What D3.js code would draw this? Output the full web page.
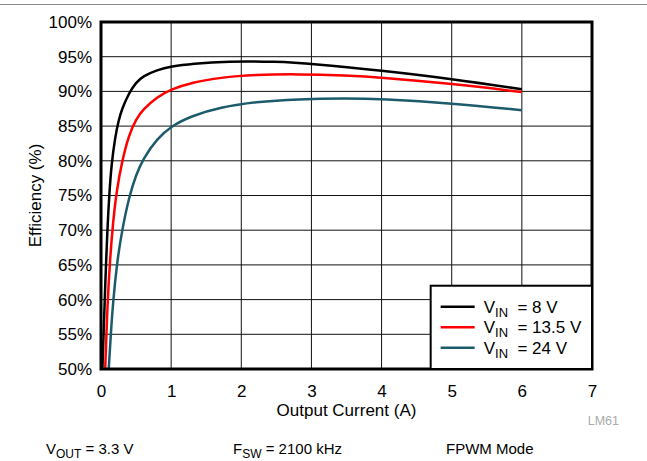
<!DOCTYPE html>
<html>
<head>
<meta charset="utf-8">
<script src="https://cdn.jsdelivr.net/npm/d3@7"></script>
<style>
  body { margin: 0; background: #fff; }
  svg { display: block; font-family: "Liberation Sans", Arial, sans-serif; }
</style>
</head>
<body>
<div id="chart"></div>
<script>
// data
var currents8 = [0.02, 0.04, 0.06, 0.09, 0.12, 0.15, 0.2, 0.25, 0.3, 0.4, 0.5, 0.6, 0.8, 1, 1.3, 1.8, 2.5, 3, 4, 5, 6];
var eff8 = [50, 56, 62, 70, 75.5, 79.5, 83.3, 85.8, 87.5, 89.8, 91.3, 92.2, 93.1, 93.6, 94.0, 94.35, 94.3, 94.0, 93.0, 91.8, 90.3];

var currents135 = [0.06, 0.09, 0.13, 0.17, 0.22, 0.3, 0.4, 0.5, 0.6, 0.8, 1, 1.3, 1.7, 2.2, 2.8, 3.5, 4, 5, 6];
var eff135 = [50, 59, 66, 71, 75.5, 80, 83.8, 86.0, 87.4, 89.2, 90.3, 91.3, 92.0, 92.4, 92.5, 92.3, 92.0, 91.1, 89.9];

var currents24 = [0.11, 0.14, 0.17, 0.23, 0.3, 0.4, 0.5, 0.6, 0.8, 1, 1.3, 1.7, 2.2, 2.8, 3.5, 4, 5, 6];
var eff24 = [50, 55, 59.5, 65.5, 70, 74.8, 78, 80.3, 83.2, 85, 86.5, 87.7, 88.5, 88.9, 89.0, 88.9, 88.3, 87.3];

var seriesNames = ["8 V", "13.5 V", "24 V"];
var seriesColors = ["#000000", "#ff0000", "#1c5b6b"];

var xTicks = [0, 1, 2, 3, 4, 5, 6, 7];
var yTicks = [50, 55, 60, 65, 70, 75, 80, 85, 90, 95, 100];

var svgWidth = 647;
var svgHeight = 461;
var margin = { top: 22, right: 55, bottom: 92, left: 101 };
var width = svgWidth - margin.left - margin.right;
var height = svgHeight - margin.top - margin.bottom;

var svg = d3.select("#chart")
  .append("svg")
  .attr("width", svgWidth)
  .attr("height", svgHeight);

// thin rule across the top
svg.append("line")
  .attr("x1", 0).attr("x2", svgWidth)
  .attr("y1", 4.5).attr("y2", 4.5)
  .attr("stroke", "#8a8a8a")
  .attr("stroke-width", 1);

var chartGroup = svg.append("g")
  .attr("transform", `translate(${margin.left}, ${margin.top})`);

var x = d3.scaleLinear().domain([0, 7]).range([0, width]);
var y = d3.scaleLinear().domain([50, 100]).range([height, 0]);

// grid
chartGroup.append("g")
  .selectAll("line")
  .data(xTicks)
  .enter()
  .append("line")
  .attr("x1", d => x(d)).attr("x2", d => x(d))
  .attr("y1", 0).attr("y2", height)
  .attr("stroke", "#111")
  .attr("stroke-width", 1);

chartGroup.append("g")
  .selectAll("line")
  .data(yTicks)
  .enter()
  .append("line")
  .attr("x1", 0).attr("x2", width)
  .attr("y1", d => y(d)).attr("y2", d => y(d))
  .attr("stroke", "#111")
  .attr("stroke-width", 1);

// axes (labels only)
var bottomAxis = d3.axisBottom(x).tickValues(xTicks).tickSize(0).tickPadding(16)
  .tickFormat(d3.format("d"));
var leftAxis = d3.axisLeft(y).tickValues(yTicks).tickSize(0).tickPadding(9)
  .tickFormat(d => d + "%");

chartGroup.append("g")
  .attr("transform", `translate(0, ${height})`)
  .call(bottomAxis)
  .call(g => g.select(".domain").remove())
  .selectAll("text")
  .attr("font-size", 17)
  .attr("font-family", "Liberation Sans, Arial, sans-serif")
  .attr("fill", "#000");

chartGroup.append("g")
  .call(leftAxis)
  .call(g => g.select(".domain").remove())
  .selectAll("text")
  .attr("font-size", 17)
  .attr("font-family", "Liberation Sans, Arial, sans-serif")
  .attr("fill", "#000");

// curves
var allData = [
  currents8.map((c, i) => [c, eff8[i]]),
  currents135.map((c, i) => [c, eff135[i]]),
  currents24.map((c, i) => [c, eff24[i]])
];

var line = d3.line()
  .x(d => x(d[0]))
  .y(d => y(d[1]))
  .curve(d3.curveBasis);

chartGroup.append("defs").append("clipPath").attr("id", "plotclip")
  .append("rect").attr("width", width).attr("height", height);

chartGroup.append("g")
  .attr("clip-path", "url(#plotclip)")
  .selectAll("path")
  .data(allData)
  .enter()
  .append("path")
  .attr("d", line)
  .attr("fill", "none")
  .attr("stroke", (d, i) => seriesColors[i])
  .attr("stroke-width", 2.5);

// frame
chartGroup.append("rect")
  .attr("width", width).attr("height", height)
  .attr("fill", "none")
  .attr("stroke", "#000")
  .attr("stroke-width", 3);

// legend
var legend = chartGroup.append("g")
  .attr("transform", `translate(${x(4.7)}, ${y(62)})`);

legend.append("rect")
  .attr("width", x(7) - x(4.7))
  .attr("height", y(50) - y(62))
  .attr("fill", "#fff")
  .attr("stroke", "#000")
  .attr("stroke-width", 2);

seriesNames.forEach(function(name, i) {
  var ly = 21 + i * 20.5;
  legend.append("line")
    .attr("x1", 10).attr("x2", 44)
    .attr("y1", ly).attr("y2", ly)
    .attr("stroke", seriesColors[i])
    .attr("stroke-width", 2.5);
  var t = legend.append("text")
    .attr("x", 53).attr("y", ly + 6)
    .attr("font-size", 17)
    .attr("fill", "#000");
  t.append("tspan").text("V");
  t.append("tspan").attr("dy", 4).attr("font-size", 13).text("IN");
  t.append("tspan").attr("dy", -4).text("\u00a0 = " + name);
});

// axis titles
chartGroup.append("text")
  .attr("x", x(3.5))
  .attr("y", height + 47)
  .attr("text-anchor", "middle")
  .attr("font-size", 17)
  .text("Output Current (A)");

chartGroup.append("text")
  .attr("transform", `translate(-60, ${height / 2}) rotate(-90)`)
  .attr("text-anchor", "middle")
  .attr("font-size", 17)
  .text("Efficiency (%)");

// figure id
svg.append("text")
  .attr("x", 619).attr("y", 425)
  .attr("text-anchor", "end")
  .attr("font-size", 12.5)
  .attr("fill", "#aaa")
  .text("LM61");

// footnotes
function footnote(xpos, main, sub, rest) {
  var t = svg.append("text")
    .attr("x", xpos).attr("y", 454)
    .attr("font-size", 15)
    .attr("fill", "#000");
  t.append("tspan").text(main);
  if (sub) {
    t.append("tspan").attr("dy", 4).attr("font-size", 12).text(sub);
    t.append("tspan").attr("dy", -4).text(rest);
  }
}
footnote(46, "V", "OUT", " = 3.3 V");
footnote(233, "F", "SW", " = 2100 kHz");
footnote(446, "FPWM Mode");
</script>
</body>
</html>
